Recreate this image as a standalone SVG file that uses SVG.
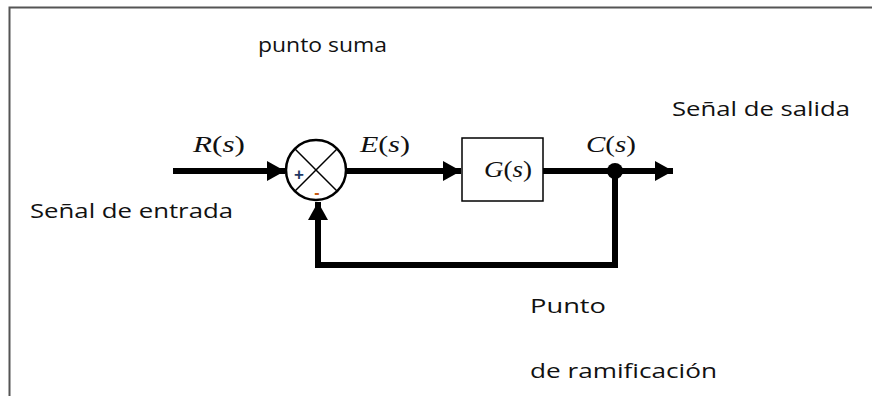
<svg xmlns="http://www.w3.org/2000/svg" width="872" height="396" viewBox="0 0 872 396">
<style>
.lbl{font-family:"Open Sans","Liberation Sans",sans-serif;font-size:20.5px;fill:#111}
.math{font-family:"Liberation Serif","DejaVu Serif",serif;font-size:23px;fill:#111}
.it{font-style:italic}
.wire{fill:none;stroke:#000;stroke-width:6}
</style>
<defs>
<marker id="ah" markerWidth="20" markerHeight="20" refX="18" refY="10" orient="auto" markerUnits="userSpaceOnUse">
<path d="M0,0 L18,10 L0,20 Z" fill="#000"/>
</marker>
</defs>
<rect width="872" height="396" fill="#fff"/>
<path d="M9.5,396 V7.5 H872" fill="none" stroke="#555" stroke-width="2"/>
<g id="connectors">
<line class="wire" x1="173" y1="171" x2="285" y2="171" marker-end="url(#ah)"/>
<line class="wire" x1="346" y1="171" x2="461" y2="171" marker-end="url(#ah)"/>
<line class="wire" x1="543" y1="171" x2="673" y2="171" marker-end="url(#ah)"/>
<path class="wire" d="M615,171 V265 H318 V202" marker-end="url(#ah)"/>
<circle cx="615" cy="171" r="8" fill="#000"/>
</g>
<g id="sum">
<circle cx="316" cy="170" r="30" fill="#fff" stroke="#000" stroke-width="2.5"/>
<line x1="294.8" y1="148.8" x2="337.2" y2="191.2" stroke="#000" stroke-width="1.5"/>
<line x1="337.2" y1="148.8" x2="294.8" y2="191.2" stroke="#000" stroke-width="1.5"/>
<text x="299" y="180" font-family="Liberation Sans,sans-serif" font-size="17" font-weight="bold" fill="#1f3864" text-anchor="middle">+</text>
<text x="317" y="198" font-family="Liberation Sans,sans-serif" font-size="16" font-weight="bold" fill="#c55a11" text-anchor="middle">-</text>
</g>
<g id="block">
<rect x="462" y="138" width="81" height="63" fill="#fff" stroke="#000" stroke-width="1.5"/>
<text class="math" x="484" y="177" textLength="48" lengthAdjust="spacingAndGlyphs"><tspan class="it">G</tspan>(<tspan class="it">s</tspan>)</text>
</g>
<g id="labels">
<text class="math" x="193" y="152" textLength="52" lengthAdjust="spacingAndGlyphs"><tspan class="it">R</tspan>(<tspan class="it">s</tspan>)</text>
<text class="math" x="360" y="152" textLength="50" lengthAdjust="spacingAndGlyphs"><tspan class="it">E</tspan>(<tspan class="it">s</tspan>)</text>
<text class="math" x="586" y="152" textLength="50" lengthAdjust="spacingAndGlyphs"><tspan class="it">C</tspan>(<tspan class="it">s</tspan>)</text>
<text class="lbl" x="258" y="52" textLength="129" lengthAdjust="spacingAndGlyphs">punto suma</text>
<text class="lbl" x="672" y="116" textLength="178" lengthAdjust="spacingAndGlyphs">Señal de salida</text>
<text class="lbl" x="30" y="218" textLength="203" lengthAdjust="spacingAndGlyphs">Señal de entrada</text>
<text class="lbl" x="530" y="313" textLength="76" lengthAdjust="spacingAndGlyphs">Punto</text>
<text class="lbl" x="530" y="378" textLength="187" lengthAdjust="spacingAndGlyphs">de ramificación</text>
</g>
</svg>
